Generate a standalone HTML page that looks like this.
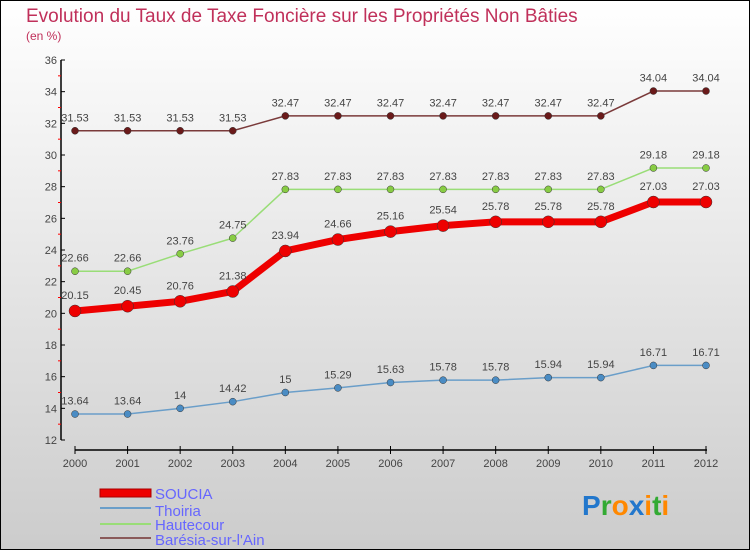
<!DOCTYPE html>
<html><head><meta charset="utf-8"><style>
body{margin:0}
#c{width:750px;height:550px;position:relative;font-family:"Liberation Sans",sans-serif}
</style></head><body>
<div id="c">
<svg id="s" width="750" height="550" xmlns="http://www.w3.org/2000/svg">
<defs><linearGradient id="bg" x1="0" y1="0" x2="0" y2="1"><stop offset="0" stop-color="#ffffff"/><stop offset="1" stop-color="#cccccc"/></linearGradient></defs>
<rect x="0.5" y="0.5" width="749" height="549" fill="url(#bg)" stroke="#000"/>
<text x="26" y="22" font-size="19" fill="#c0305a">Evolution du Taux de Taxe Foncière sur les Propriétés Non Bâties</text>
<text x="26" y="40" font-size="12" fill="#c0305a">(en %)</text>
<g id="axes"></g><g id="series"></g>
<g>
<rect x="100" y="489" width="51" height="8" fill="#e00" stroke="#a00"/>
<text x="155" y="499" font-size="15" fill="#6666ff">SOUCIA</text>
<line x1="100" y1="508" x2="151" y2="508" stroke="#6a9ec9" stroke-width="2"/>
<text x="155" y="516" font-size="15" fill="#6666ff">Thoiria</text>
<line x1="100" y1="524" x2="151" y2="524" stroke="#99dd77" stroke-width="2"/>
<text x="155" y="530" font-size="15" fill="#6666ff">Hautecour</text>
<line x1="100" y1="538" x2="151" y2="538" stroke="#8a5a5a" stroke-width="2"/>
<text x="155" y="545" font-size="15" fill="#6666ff">Barésia-sur-l'Ain</text>
</g>
<g font-size="28" font-weight="bold">
<text x="582" y="515"><tspan fill="#2277cc">P</tspan><tspan fill="#33aa33">r</tspan><tspan fill="#ff8800">o</tspan><tspan fill="#2277cc">x</tspan><tspan fill="#ff8800">i</tspan><tspan fill="#33aa33">t</tspan><tspan fill="#ff8800">i</tspan></text>
</g>
</svg>
</div>
<script>
const years=[2000,2001,2002,2003,2004,2005,2006,2007,2008,2009,2010,2011,2012];
const soucia=[20.15,20.45,20.76,21.38,23.94,24.66,25.16,25.54,25.78,25.78,25.78,27.03,27.03];
const thoiria=[13.64,13.64,14,14.42,15,15.29,15.63,15.78,15.78,15.94,15.94,16.71,16.71];
const hautecour=[22.66,22.66,23.76,24.75,27.83,27.83,27.83,27.83,27.83,27.83,27.83,29.18,29.18];
const baresia=[31.53,31.53,31.53,31.53,32.47,32.47,32.47,32.47,32.47,32.47,32.47,34.04,34.04];
const yTicks=[12,14,16,18,20,22,24,26,28,30,32,34,36];
const NS="http://www.w3.org/2000/svg";
const x=i=>75+i*(706-75)/(years.length-1);
const y=v=>440-(v-12)*(380/24);
function mk(t,a,p){const e=document.createElementNS(NS,t);for(const k in a)e.setAttribute(k,a[k]);p.appendChild(e);return e;}
const ax=document.getElementById('axes');
const yl=mk('line',{x1:61,y1:60,x2:61,y2:440,stroke:'#000','stroke-width':1.5},ax);


const xl=mk('line',{x1:75,y1:450,x2:707,y2:450,stroke:'#000','stroke-width':1.5},ax);


yTicks.forEach(v=>{
  mk('line',{x1:61,y1:y(v),x2:65,y2:y(v),stroke:'#000'},ax);
  if(v<36)mk('line',{x1:58,y1:y(v+1),x2:61,y2:y(v+1),stroke:'#f00'},ax);
  const t=mk('text',{x:57,y:y(v)+4,'font-size':11,fill:'#444','text-anchor':'end'},ax);
  
  
  t.textContent=v;
});
years.forEach((yr,i)=>{
  mk('line',{x1:x(i),y1:446,x2:x(i),y2:454,stroke:'#000'},ax);
  const t=mk('text',{x:x(i),y:467,'font-size':11,fill:'#444','text-anchor':'middle'},ax);
  
  
  t.textContent=yr;
});
const sg=document.getElementById('series');
function draw(data,name,color,w,r,dot){
  const g=mk('g',{},sg);
  
  
  mk('polyline',{points:data.map((v,i)=>x(i)+','+y(v)).join(' '),fill:'none',stroke:color,'stroke-width':w,'stroke-linejoin':'round'},g);
  data.forEach((v,i)=>{
    const c=mk('circle',{cx:x(i),cy:y(v),r:r,fill:dot,stroke:'#333','stroke-width':0.5},g);
    
    
    const t=mk('text',{x:x(i),y:y(v)-r-6,'font-size':11,fill:'#444','text-anchor':'middle'},g);
    
    
    t.textContent=v;
  });
}
draw(baresia,'baresia','#7a3a3a',1.5,3.5,'#6a1a1a');
draw(hautecour,'hautecour','#99dd77',1.5,3.5,'#88cc44');
draw(thoiria,'thoiria','#6a9ec9',1.5,3.5,'#4a8cc4');
draw(soucia,'soucia','#ee0000',7,6,'#ee0000');
</script>
</body></html>
